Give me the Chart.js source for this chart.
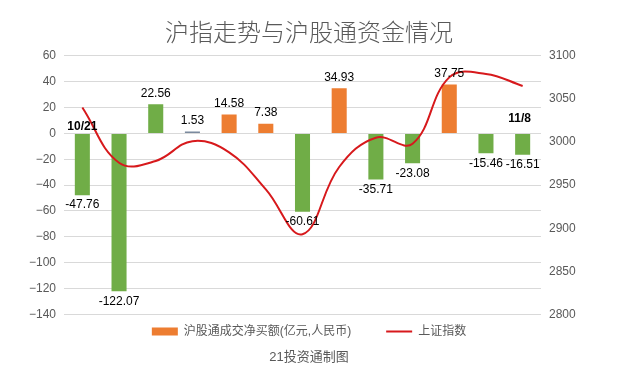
<!DOCTYPE html>
<html>
<head>
    <meta charset="utf-8">
    <script src="https://cdn.jsdelivr.net/npm/chart.js@4.4.1/dist/chart.umd.min.js"></script>
    <style>
        body {
            margin: 0;
            background-color: #ffffff;
        }
        #wrap {
            width: 618px;
            height: 382px;
        }
    </style>
</head>
<body>
    <div id="wrap">
        <canvas id="chart" width="618" height="382"></canvas>
    </div>
    <script>
        // trading days shown (only first and last are printed on the chart)
        const dates = ['10/21', '10/24', '10/25', '10/26', '10/27', '10/28', '10/31',
                       '11/1', '11/2', '11/3', '11/4', '11/7', '11/8'];
        // 沪股通成交净买额 (亿元)
        const netBuy = [-47.76, -122.07, 22.56, 1.53, 14.58, 7.38, -60.61,
                        34.93, -35.71, -23.08, 37.75, -15.46, -16.51];
        // 上证指数
        const shIndex = [3040, 2976, 2978, 3001, 2988, 2945, 2893,
                         2971, 3005, 2998, 3075, 3079, 3065];
        const leftTicks = [-140, 60, 20];     // min, max, step
        const rightTicks = [2800, 3100, 50];

        const GREEN = '#70AD47', ORANGE = '#ED7D31', GRAY = '#7B8A9E', RED = '#D7191C';
        const barColors = [GREEN, GREEN, GREEN, GRAY, ORANGE, ORANGE, GREEN,
                           ORANGE, GREEN, GREEN, ORANGE, GREEN, GREEN];

        Chart.defaults.font.family = "'Liberation Sans', 'Noto Sans CJK SC', sans-serif";
        Chart.defaults.color = '#595959';

        // numbers on the bars + the two date marks
        const valueLabels = {
            id: 'valueLabels',
            afterDatasetsDraw(chart) {
                const ctx = chart.ctx;
                const bars = chart.getDatasetMeta(0).data;
                const zeroY = chart.scales.y.getPixelForValue(0);
                ctx.save();
                ctx.textAlign = 'center';
                ctx.fillStyle = '#000';
                ctx.font = "12px 'Liberation Sans'";
                bars.forEach((bar, i) => {
                    const v = netBuy[i];
                    if (v >= 0) {
                        ctx.textBaseline = 'bottom';
                        ctx.fillText(v.toFixed(2), bar.x, bar.y - 5);
                    } else {
                        ctx.textBaseline = 'top';
                        ctx.fillText(v.toFixed(2), bar.x, bar.y + 4);
                    }
                });
                ctx.font = "bold 12px 'Liberation Sans'";
                ctx.textBaseline = 'middle';
                const last = bars.length - 1;
                ctx.fillText(dates[0], bars[0].x, zeroY - 7);
                ctx.fillText(dates[last], bars[last].x - 3, zeroY - 15);
                ctx.restore();
            }
        };

        new Chart(document.getElementById('chart'), {
            type: 'bar',
            data: {
                labels: dates,
                datasets: [{
                    label: '沪股通成交净买额(亿元,人民币)',
                    data: netBuy,
                    backgroundColor: barColors,
                    borderWidth: 0,
                    categoryPercentage: 1,
                    barPercentage: 0.41,
                    pointStyle: 'rect',
                    yAxisID: 'y',
                    order: 2
                }, {
                    type: 'line',
                    label: '上证指数',
                    data: shIndex,
                    borderColor: RED,
                    backgroundColor: RED,
                    borderWidth: 2,
                    pointRadius: 0,
                    pointStyle: 'line',
                    tension: 0.4,
                    yAxisID: 'y1',
                    order: 1
                }]
            },
            options: {
                responsive: false,
                animation: false,
                layout: { padding: 0 },
                scales: {
                    x: { display: false },
                    y: {
                        position: 'left',
                        min: leftTicks[0],
                        max: leftTicks[1],
                        ticks: {
                            stepSize: leftTicks[2],
                            padding: 8,
                            font: { size: 12 },
                            callback: v => String(v).replace('-', '\u2212')
                        },
                        grid: { color: '#D9D9D9', drawTicks: false },
                        border: { display: false },
                        afterFit(scale) { scale.width = 64; }
                    },
                    y1: {
                        position: 'right',
                        min: rightTicks[0],
                        max: rightTicks[1],
                        ticks: {
                            stepSize: rightTicks[2],
                            padding: 8,
                            font: { size: 12 },
                            callback: v => String(v)
                        },
                        grid: { display: false, drawTicks: false },
                        border: { display: false },
                        afterFit(scale) { scale.width = 77; }
                    }
                },
                plugins: {
                    tooltip: { enabled: false },
                    title: {
                        display: true,
                        text: '沪指走势与沪股通资金情况',
                        color: '#595959',
                        font: { size: 24, weight: 300, family: "'Noto Sans CJK SC'" },
                        padding: { top: 17, bottom: 10 }
                    },
                    legend: {
                        position: 'bottom',
                        labels: {
                            usePointStyle: true,
                            pointStyleWidth: 26,
                            boxHeight: 8,
                            padding: 11,
                            color: '#595959',
                            font: { size: 12 },
                            sort: (a, b) => a.datasetIndex - b.datasetIndex,
                            generateLabels(chart) {
                                const items = Chart.defaults.plugins.legend.labels.generateLabels(chart);
                                items.forEach(it => {
                                    if (it.datasetIndex === 0) {
                                        it.fillStyle = ORANGE;
                                        it.text = it.text + '\u2003\u2003';
                                    }
                                });
                                return items;
                            }
                        }
                    },
                    subtitle: {
                        display: true,
                        position: 'bottom',
                        text: '21投资通制图',
                        color: '#595959',
                        font: { size: 13 },
                        padding: { top: 2, bottom: 17 }
                    }
                }
            },
            plugins: [valueLabels]
        });
    </script>
</body>
</html>
